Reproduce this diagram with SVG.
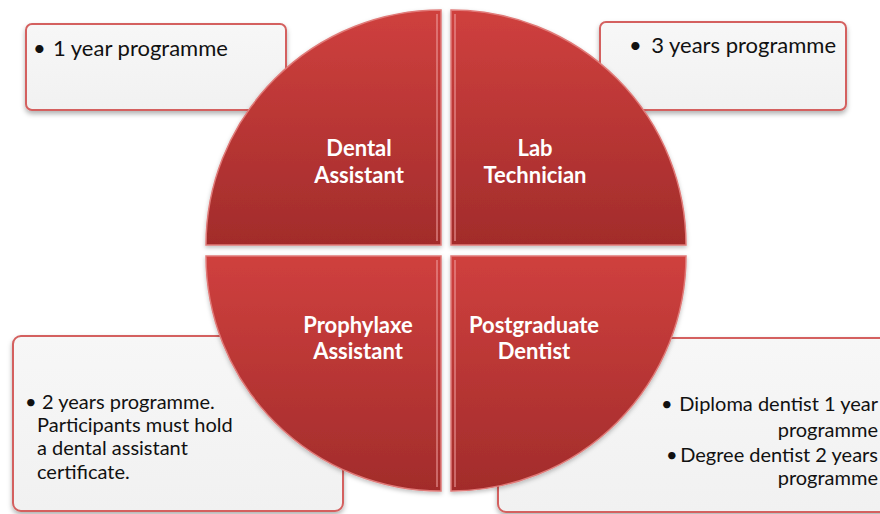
<svg xmlns="http://www.w3.org/2000/svg" width="880" height="514" viewBox="0 0 880 514">
<style>
.box{fill:url(#boxg);stroke:#d4605e;stroke-width:2;filter:url(#sh)}
.q{stroke:#e07a78;stroke-width:1.5;filter:url(#qs)}
.hl{fill:none;stroke:#f0a0a0;stroke-width:1.5;opacity:0.7}
.lbl{font-family:Lato,"Liberation Sans",sans-serif;font-weight:bold;font-size:22px;fill:#ffffff;text-anchor:middle}
.t{font-family:Lato,"Liberation Sans",sans-serif;font-size:22px;fill:#111111}
.s{font-size:20px}
.e{text-anchor:end}
</style>
<defs>
<linearGradient id="boxg" x1="0" y1="0" x2="0" y2="1">
<stop offset="0" stop-color="#f7f7f7"/>
<stop offset="1" stop-color="#f1f1f1"/>
</linearGradient>
<linearGradient id="qg" x1="0" y1="0" x2="0" y2="1">
<stop offset="0" stop-color="#cf403e"/>
<stop offset="1" stop-color="#a22c2b"/>
</linearGradient>
<filter id="sh" x="-10%" y="-10%" width="120%" height="130%">
<feDropShadow dx="0" dy="3" stdDeviation="2.5" flood-color="#000" flood-opacity="0.3"/>
</filter>
<filter id="qs" x="-10%" y="-10%" width="120%" height="120%">
<feDropShadow dx="0" dy="2" stdDeviation="2" flood-color="#000" flood-opacity="0.25"/>
</filter>
</defs>
<g id="box-dental">
<rect class="box" x="26" y="24" width="260" height="86" rx="6"/>
<text class="t" x="33" y="56">•</text>
<text class="t" x="53" y="56">1 year programme</text>
</g>
<g id="box-lab">
<rect class="box" x="600" y="22" width="246" height="88" rx="6"/>
<text class="t" x="629" y="53">•</text>
<text class="t e" x="836" y="53">3 years programme</text>
</g>
<g id="box-prophylaxe">
<rect class="box" x="13" y="336" width="330" height="175" rx="8"/>
<text class="t s" x="25" y="409">•</text>
<text class="t s" x="42" y="409">2 years programme.</text>
<text class="t s" x="37" y="432">Participants must hold</text>
<text class="t s" x="37" y="455">a dental assistant</text>
<text class="t s" x="37" y="479">certificate.</text>
</g>
<g id="box-postgrad">
<rect class="box" x="498" y="338" width="400" height="174" rx="8"/>
<text class="t s" x="661" y="411">•</text>
<text class="t s e" x="878" y="411">Diploma dentist 1 year</text>
<text class="t s e" x="878" y="437">programme</text>
<text class="t s" x="666" y="462">•</text>
<text class="t s e" x="878" y="462">Degree dentist 2 years</text>
<text class="t s e" x="878" y="485">programme</text>
</g>
<g id="q-dental">
<path class="q" fill="url(#qg)" d="M441,245 L206,245 A235,235 0 0 1 441,10 Z"/>
<path class="hl" d="M437,14 L437,241"/>
<text class="lbl" x="359" y="156">Dental</text>
<text class="lbl" x="359" y="183">Assistant</text>
</g>
<g id="q-lab">
<path class="q" fill="url(#qg)" d="M451,245 L451,10 A235,235 0 0 1 686,245 Z"/>
<path class="hl" d="M455,14 L455,241"/>
<text class="lbl" x="535" y="156">Lab</text>
<text class="lbl" x="535" y="183">Technician</text>
</g>
<g id="q-prophylaxe">
<path class="q" fill="url(#qg)" d="M441,256 L441,491 A235,235 0 0 1 206,256 Z"/>
<path class="hl" d="M437,260 L437,487"/>
<text class="lbl" x="358" y="333">Prophylaxe</text>
<text class="lbl" x="358" y="359">Assistant</text>
</g>
<g id="q-postgrad">
<path class="q" fill="url(#qg)" d="M451,256 L686,256 A235,235 0 0 1 451,491 Z"/>
<path class="hl" d="M455,260 L455,487"/>
<text class="lbl" x="534" y="333">Postgraduate</text>
<text class="lbl" x="534" y="359">Dentist</text>
</g>
<g id="connectors"/>
</svg>
